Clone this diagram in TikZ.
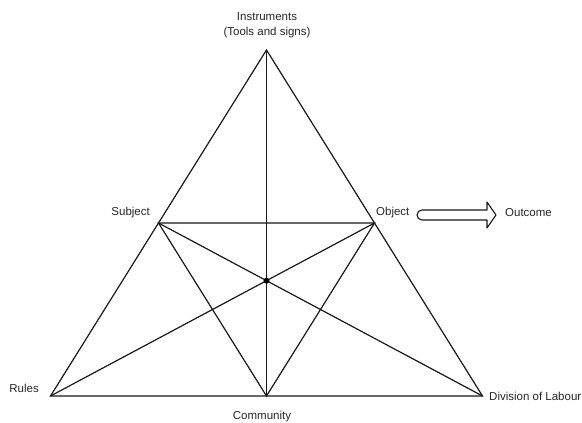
\documentclass[tikz,border=0pt]{standalone}
\usepackage{fontspec}
\setmainfont{Liberation Sans}
\usetikzlibrary{calc}
\begin{document}
\begin{tikzpicture}[x=1pt,y=-1pt,
  edge/.style={line width=1.2pt,black!90},
  lbl/.style={inner sep=0pt,font=\fontsize{11.5}{15.5}\selectfont,text=black!85},
  hollowarrow/.style={line width=1.1pt,black!90,fill=white,line join=round}]
\useasboundingbox (0,0) rectangle (582,423);
% vertices
\coordinate (apex) at (266.5,50);
\coordinate (rules) at (50.5,396);
\coordinate (div) at (482.5,396);
\coordinate (subj) at ($ (apex)!0.5!(rules) $);
\coordinate (obj) at ($ (apex)!0.5!(div) $);
\coordinate (comm) at ($ (rules)!0.5!(div) $);
\coordinate (ctr) at ($ (apex)!0.6667!(comm) $);
% outer triangle
\draw[edge,line join=miter] (apex) -- (rules) -- (div) -- cycle;
% medial triangle
\draw[edge] (subj) -- (obj) -- (comm) -- cycle;
% medians
\draw[edge] (apex) -- (comm);
\draw[edge] (subj) -- (div);
\draw[edge] (obj) -- (rules);
\fill[black] (ctr) circle (3);
% labels
\node[lbl,align=center,anchor=center] (tinst) at (267,25) {Instruments\\(Tools and signs)};
\node[lbl,anchor=east] (tsubj) at (150,213) {Subject};
\node[lbl,anchor=west] (tobj) at (376,213) {Object};
\node[lbl,anchor=west] (tout) at (505,213) {Outcome};
\node[lbl,anchor=east] (trules) at (39,388) {Rules};
\node[lbl,anchor=center] (tcomm) at (262,417) {Community};
\node[lbl,anchor=west] (tdiv) at (489,396) {Division of Labour};
% hollow arrow
\coordinate (atail) at (417,215);
\coordinate (atip) at (496,215);
\draw[hollowarrow] (487,210) -- (422,210) arc[start angle=270,end angle=90,radius=5]
  -- (487,220) -- (487,228) -- (atip) -- (487,202) -- cycle;
\end{tikzpicture}
\end{document}
